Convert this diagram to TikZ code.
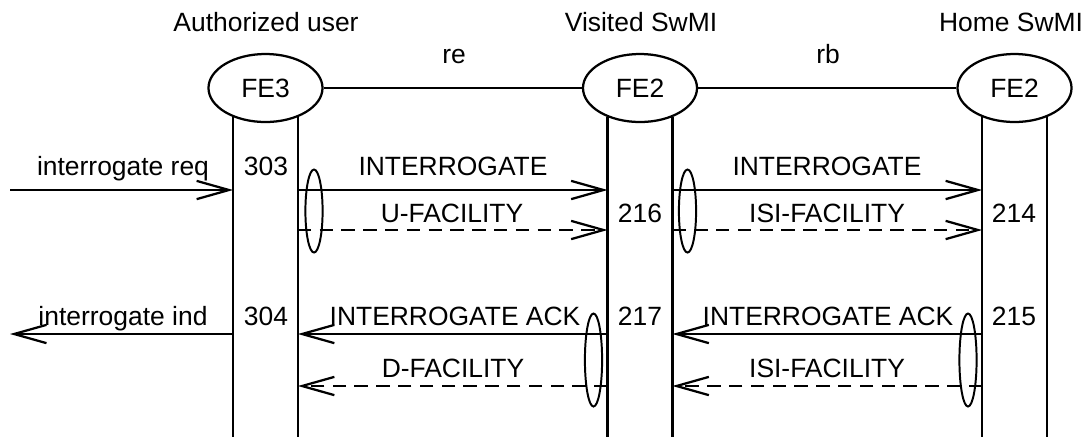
\documentclass[tikz,border=0pt]{standalone}
\usepackage{fontspec}
\setmainfont{Liberation Sans}
\usetikzlibrary{shapes.geometric, arrows.meta}
\tikzset{
  fe/.style={draw, ellipse, line width=1.6pt, minimum width=2.85cm, minimum height=1.7cm, inner sep=0pt},
  msg/.style={line width=1.6pt, -{Straight Barb[length=23pt,width=13pt]}},
  facility/.style={msg, dash pattern=on 9.5pt off 6pt},
  grp/.style={draw, ellipse, line width=1.4pt, minimum width=0.43cm, inner sep=0pt},
  lbl/.style={anchor=base, inner sep=0pt},
}

\begin{document}
\begin{tikzpicture}[x=0.025cm, y=-0.025cm, font=\fontsize{18.8}{22}\selectfont]
\useasboundingbox (0,0) rectangle (1089,437);
% functional entities
\node[fe] (fe3) at (265.5,88) {FE3};
\node[fe] (fe2v) at (640,88) {FE2};
\node[fe] (fe2h) at (1014.5,88) {FE2};
\draw[line width=1.6pt] (fe3) -- (fe2v);
\draw[line width=1.6pt] (fe2v) -- (fe2h);
\node[lbl] (user) at (266,31) {Authorized user};
\node[lbl] (visited) at (641,31) {Visited SwMI};
\node[lbl] (home) at (1011,31) {Home SwMI};
\node[lbl] (re) at (454,63) {re};
\node[lbl] (rb) at (828,63) {rb};

% lifelines
\coordinate (bot) at (0,437);
\draw[line width=1.6pt] (fe3.222) -- (fe3.222 |- bot);
\draw[line width=1.6pt] (fe3.318) -- (fe3.318 |- bot);
\draw[line width=1.6pt] (fe2v.222) -- (fe2v.222 |- bot);
\draw[line width=1.6pt] (fe2v.318) -- (fe2v.318 |- bot);
\draw[line width=1.6pt] (fe2h.222) -- (fe2h.222 |- bot);
\draw[line width=1.6pt] (fe2h.318) -- (fe2h.318 |- bot);

% message rows
\coordinate (r1) at (0,190);
\coordinate (r2) at (0,230);
\coordinate (r3) at (0,334);
\coordinate (r4) at (0,386);
\coordinate (userin) at (10,190);
\coordinate (userout) at (10,334);

% interrogate
\draw[msg] (userin) -- (fe3.222 |- r1);
\draw[msg] (fe3.318 |- r1) -- (fe2v.222 |- r1);
\draw[facility] (fe3.318 |- r2) -- (fe2v.222 |- r2);
\draw[msg] (fe2v.318 |- r1) -- (fe2h.222 |- r1);
\draw[facility] (fe2v.318 |- r2) -- (fe2h.222 |- r2);
\node[grp, minimum height=2.075cm] (grp1) at (314,211) {};
\node[grp, minimum height=2.075cm] (grp2) at (687.5,211) {};

% acknowledge
\draw[msg] (fe3.222 |- r3) -- (userout);
\draw[msg] (fe2v.222 |- r3) -- (fe3.318 |- r3);
\draw[facility] (fe2v.222 |- r4) -- (fe3.318 |- r4);
\draw[msg] (fe2h.222 |- r3) -- (fe2v.318 |- r3);
\draw[facility] (fe2h.222 |- r4) -- (fe2v.318 |- r4);
\node[grp, minimum height=2.325cm] (grp3) at (593.5,360) {};
\node[grp, minimum height=2.325cm] (grp4) at (968,360) {};

% labels
\node[lbl] (req) at (123,175) {interrogate req};
\node[lbl] (n303) at (266,175) {303};
\node[lbl] (int1) at (453,175) {INTERROGATE};
\node[lbl] (int2) at (827,175) {INTERROGATE};
\node[lbl] (ufac) at (452,222) {U-FACILITY};
\node[lbl] (n216) at (640,222) {216};
\node[lbl] (isi1) at (827,222) {ISI-FACILITY};
\node[lbl] (n214) at (1014,222) {214};
\node[lbl] (ind) at (123,325) {interrogate ind};
\node[lbl] (n304) at (266,325) {304};
\node[lbl] (ack1) at (455,325) {INTERROGATE ACK};
\node[lbl] (n217) at (640,325) {217};
\node[lbl] (ack2) at (828,325) {INTERROGATE ACK};
\node[lbl] (n215) at (1014,325) {215};
\node[lbl] (dfac) at (453,377) {D-FACILITY};
\node[lbl] (isi2) at (827,377) {ISI-FACILITY};
\end{tikzpicture}
\end{document}
